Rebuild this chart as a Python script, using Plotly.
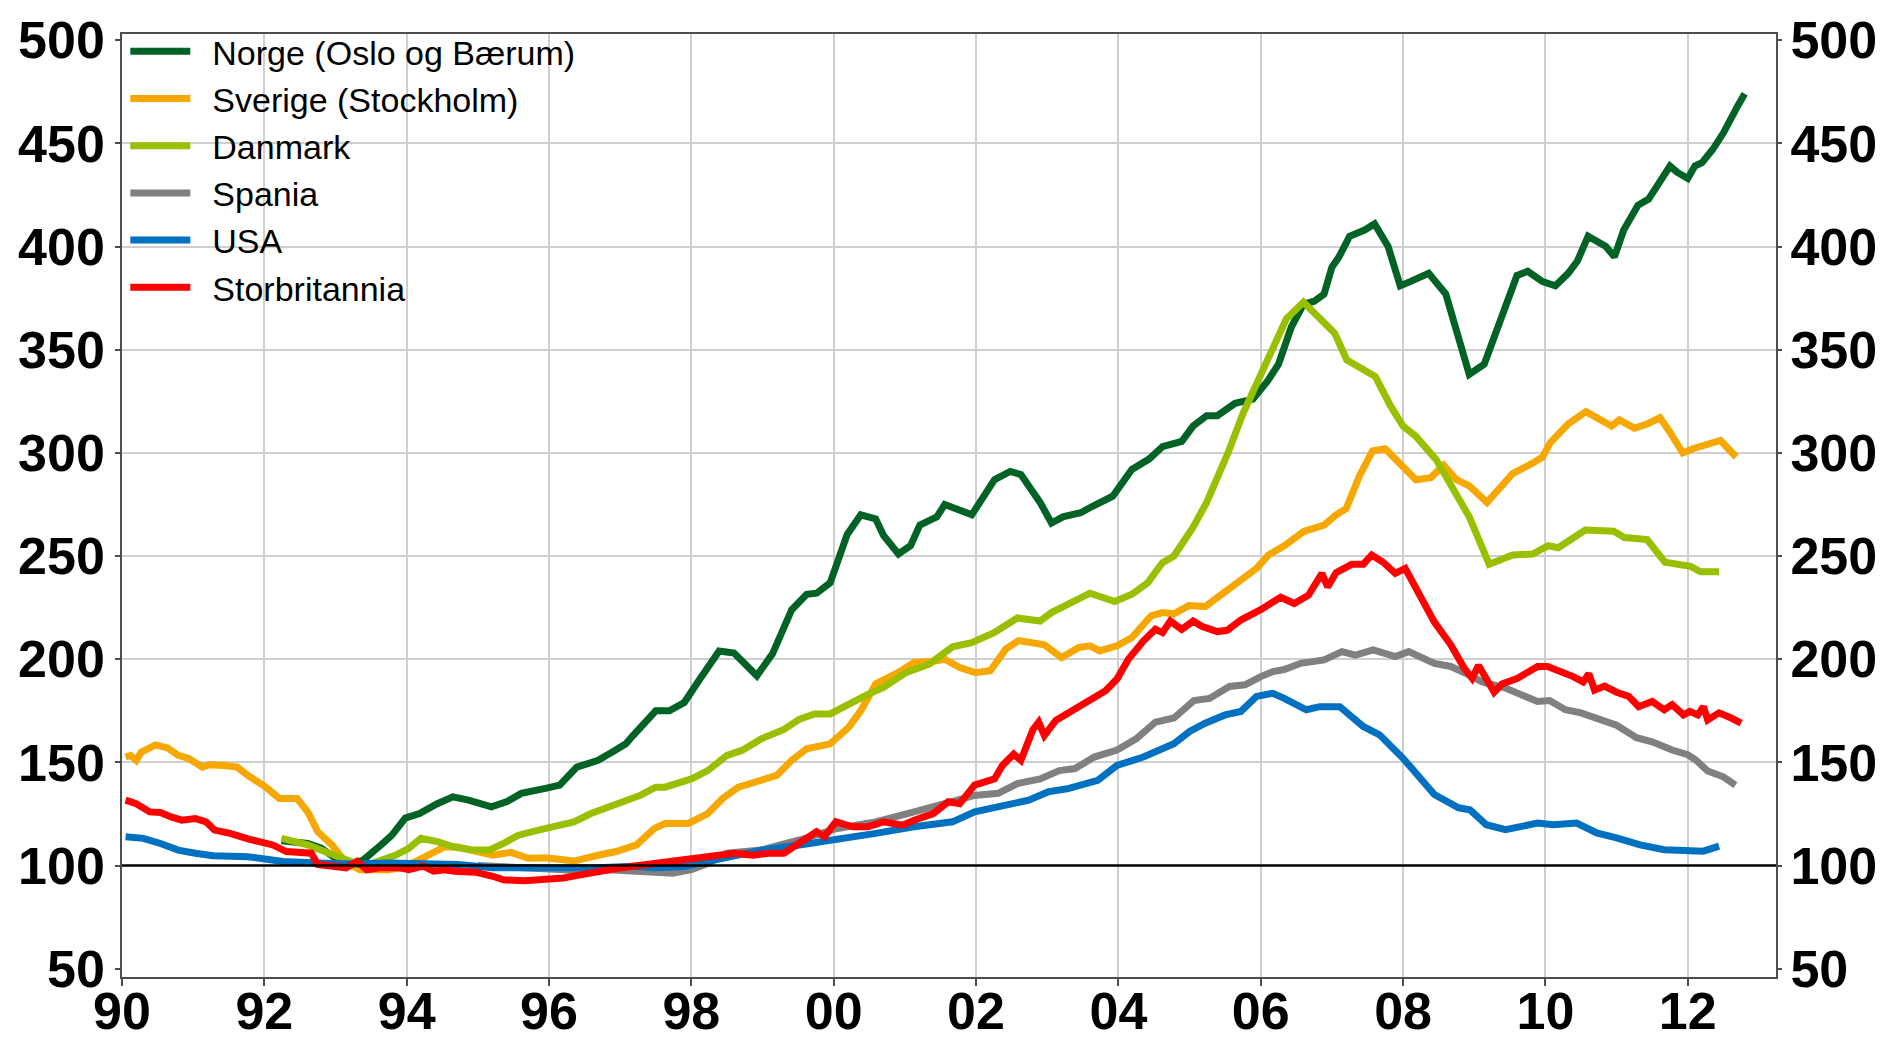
import plotly.graph_objects as go

# ---------------- axis definitions ----------------
YEAR_TICKS = [1990, 1992, 1994, 1996, 1998, 2000, 2002, 2004, 2006, 2008, 2010, 2012]
YEAR_LABELS = ["90", "92", "94", "96", "98", "00", "02", "04", "06", "08", "10", "12"]
VALUE_TICKS = [50, 100, 150, 200, 250, 300, 350, 400, 450, 500]
GRID_VALUES = [150, 200, 250, 300, 350, 400, 450]
BASE_LEVEL = 100
X_RANGE = [1990, 2013.24]
Y_RANGE = [46, 503]

# ---------------- series (index) ----------------
norge_x = [1992.24, 1992.45, 1992.61, 1992.8, 1993.0, 1993.25, 1993.39, 1993.64, 1993.79, 1993.98,
           1994.18, 1994.43, 1994.65, 1994.87, 1995.19, 1995.41, 1995.61, 1995.95, 1996.15, 1996.39,
           1996.69, 1996.89, 1997.08, 1997.18, 1997.38, 1997.5, 1997.69, 1997.9, 1998.12, 1998.39,
           1998.6, 1998.92, 1999.14, 1999.41, 1999.62, 1999.76, 1999.95, 2000.19, 2000.38, 2000.59,
           2000.7, 2000.91, 2001.08, 2001.21, 2001.45, 2001.56, 2001.94, 2002.26, 2002.48, 2002.63,
           2002.9, 2003.06, 2003.22, 2003.47, 2003.63, 2003.92, 2004.19, 2004.43, 2004.62, 2004.89,
           2005.05, 2005.24, 2005.39, 2005.64, 2005.89, 2006.1, 2006.25, 2006.43, 2006.6, 2006.75,
           2006.89, 2007.0, 2007.1, 2007.25, 2007.46, 2007.6, 2007.79, 2007.96, 2008.1, 2008.36,
           2008.6, 2008.8, 2008.93, 2009.14, 2009.4, 2009.6, 2009.75, 2009.96, 2010.14, 2010.32,
           2010.45, 2010.6, 2010.85, 2010.97, 2011.1, 2011.3, 2011.45, 2011.6, 2011.75, 2011.85,
           2012.0, 2012.1, 2012.2, 2012.35, 2012.5, 2012.7, 2012.8]
norge_y = [112, 111.5, 110.7, 108.4, 103.5, 101.3, 102.7, 110, 114.6, 123,
           125.2, 130, 133.3, 131.7, 128.5, 131, 135, 137.4, 139, 147.7,
           151, 155, 159, 163, 170.3, 175, 175, 179, 190.4, 204,
           203, 192, 202.6, 224, 231.5, 232, 237, 260.5, 270, 268,
           260, 251, 255, 265, 269, 275, 270, 287, 291, 289.5,
           276, 266, 269, 271, 274, 279, 292, 297, 303, 305.6,
           313, 318, 318, 324, 326, 335, 343, 361, 372, 373.5,
           377, 390, 395, 405, 408, 411, 400, 381, 383, 387,
           377, 355, 338, 343, 366, 386, 388, 383, 381, 387,
           393, 405, 400, 395, 408, 420, 423, 431, 439, 436,
           433, 439, 440.6, 447, 455, 468, 474]

sverige_x = [1990.05, 1990.12, 1990.2, 1990.27, 1990.47, 1990.64, 1990.79, 1990.93, 1991.13, 1991.23,
             1991.43, 1991.62, 1991.77, 1992.02, 1992.21, 1992.46, 1992.61, 1992.75, 1992.95, 1993.1,
             1993.25, 1993.34, 1993.74, 1993.94, 1994.13, 1994.38, 1994.53, 1994.72, 1994.97, 1995.21,
             1995.46, 1995.71, 1995.95, 1996.2, 1996.35, 1996.69, 1996.94, 1997.23, 1997.48, 1997.63,
             1997.96, 1998.23, 1998.44, 1998.66, 1998.98, 1999.2, 1999.41, 1999.62, 1999.95, 2000.21,
             2000.38, 2000.59, 2000.91, 2001.13, 2001.4, 2001.56, 2001.77, 2001.99, 2002.2, 2002.42,
             2002.6, 2002.85, 2002.96, 2003.2, 2003.44, 2003.6, 2003.74, 2003.98, 2004.19, 2004.46,
             2004.62, 2004.78, 2004.99, 2005.22, 2005.44, 2005.67, 2005.94, 2006.11, 2006.33, 2006.61,
             2006.89, 2007.06, 2007.2, 2007.39, 2007.57, 2007.75, 2007.96, 2008.18, 2008.39, 2008.57,
             2008.75, 2008.93, 2009.18, 2009.54, 2009.82, 2009.96, 2010.07, 2010.32, 2010.57, 2010.75,
             2010.93, 2011.04, 2011.25, 2011.43, 2011.61, 2011.75, 2011.93, 2012.07, 2012.25, 2012.46,
             2012.68]
sverige_y = [152.6, 153.4, 151, 155, 158.5, 157, 153.4, 152, 147.7, 148.9,
             148.5, 147.7, 143.7, 138, 132.5, 132.5, 126, 116.4, 110, 103.5,
             99.7, 98, 98, 99, 102, 106.8, 109, 109, 106.8, 105,
             106.4, 103.5, 103.8, 102.7, 102.2, 105, 106.8, 110, 118, 120.4,
             120.4, 125.2, 132.5, 138, 141.3, 143.7, 151, 156.6, 159, 167,
             175, 188, 193.6, 198.4, 199, 200, 196, 193.5, 194.4, 205,
             209, 208, 207, 200.8, 205.6, 206.5, 204, 206.5, 210.5, 221,
             222.6, 222, 226, 225.5, 231, 237, 244, 250.5, 255, 262,
             265, 270, 273, 289, 301, 302, 295, 287, 288, 294,
             287, 284, 276, 290, 295, 298, 305, 314, 320, 316,
             313, 316, 312, 314, 317, 310, 300, 302, 304, 306,
             298]

danmark_x = [1992.24, 1992.41, 1992.61, 1992.85, 1993.05, 1993.25, 1993.39, 1993.54, 1993.84, 1994.03,
             1994.2, 1994.43, 1994.67, 1994.92, 1995.16, 1995.36, 1995.56, 1995.85, 1996.2, 1996.35,
             1996.59, 1996.94, 1997.28, 1997.5, 1997.63, 1998.0, 1998.23, 1998.5, 1998.71, 1998.98,
             1999.3, 1999.52, 1999.73, 1999.95, 2000.16, 2000.48, 2000.7, 2001.02, 2001.34, 2001.56,
             2001.67, 2001.94, 2002.26, 2002.58, 2002.9, 2003.06, 2003.44, 2003.6, 2003.95, 2004.19,
             2004.41, 2004.62, 2004.78, 2005.05, 2005.24, 2005.54, 2005.75, 2005.96, 2006.18, 2006.36,
             2006.6, 2006.82, 2007.04, 2007.21, 2007.46, 2007.61, 2007.82, 2008.0, 2008.18, 2008.46,
             2008.68, 2008.93, 2009.04, 2009.21, 2009.54, 2009.82, 2010.04, 2010.18, 2010.56, 2010.96,
             2011.11, 2011.43, 2011.68, 2012.04, 2012.18, 2012.44]
danmark_y = [113.2, 111.6, 110, 106.8, 104.3, 102, 99.7, 101.3, 105, 108.4,
             113.2, 111.6, 109, 107.5, 107.5, 110.7, 114.6, 117.2, 119.6, 121.2,
             125.2, 130, 134, 138, 138, 142, 146, 153.4, 155.8, 161.4,
             166, 171, 173.5, 173.5, 177.5, 183, 186.3, 193.6, 197.6, 203,
             206, 208, 213, 220, 218.5, 222.6, 229, 232, 228, 231.5,
             237, 246.8, 250, 264, 276, 300, 319, 335, 350, 365,
             373, 366, 358, 345, 340, 337, 323, 313, 308, 297,
             284, 269, 260, 246, 250.5, 251, 255, 254, 262.6, 262,
             259, 258, 247, 245, 242.4, 242.4]

spania_x = [1995.0, 1995.5, 1996.0, 1996.5, 1996.83, 1997.37, 1997.74, 1998.0, 1998.23, 1998.5,
            1998.98, 1999.25, 1999.52, 2000.05, 2000.59, 2001.13, 2001.4, 2001.67, 2001.98, 2002.31,
            2002.58, 2002.9, 2003.17, 2003.39, 2003.66, 2003.98, 2004.25, 2004.52, 2004.78, 2005.06,
            2005.28, 2005.56, 2005.78, 2006.0, 2006.17, 2006.33, 2006.56, 2006.89, 2007.14, 2007.33,
            2007.58, 2007.89, 2008.08, 2008.44, 2008.67, 2008.89, 2009.11, 2009.44, 2009.67, 2009.89,
            2010.06, 2010.28, 2010.5, 2010.67, 2011.0, 2011.28, 2011.5, 2011.78, 2012.0, 2012.11,
            2012.28, 2012.5, 2012.67]
spania_y = [100, 99, 98, 97.5, 98, 97.1, 96.3, 98, 101, 106,
            107.5, 110, 112.4, 118, 121.2, 126, 128.5, 131.7, 134, 135,
            139.7, 142, 146, 147, 152.6, 156, 161.4, 169.5, 171.5, 180,
            181, 186.8, 187.6, 191.6, 194, 195, 198, 199.7, 203.7, 202,
            204.5, 201.3, 203.7, 198, 196.5, 193, 189, 186, 182.7, 179.5,
            180, 175.5, 174, 172, 168, 162, 160, 156, 153.7, 151.3,
            145.8, 143, 139]

usa_x = [1990.05, 1990.3, 1990.54, 1990.79, 1991.03, 1991.28, 1991.77, 1992.02, 1992.26, 1992.75,
         1993.25, 1993.74, 1994.23, 1994.72, 1995.21, 1995.71, 1996.2, 1996.69, 1997.18, 1997.48,
         1997.9, 1998.44, 1998.98, 1999.52, 2000.05, 2000.59, 2001.13, 2001.67, 2001.98, 2002.47,
         2002.74, 2003.01, 2003.28, 2003.71, 2003.98, 2004.35, 2004.56, 2004.78, 2005.0, 2005.22,
         2005.5, 2005.72, 2005.94, 2006.17, 2006.33, 2006.64, 2006.83, 2007.11, 2007.44, 2007.67,
         2008.0, 2008.44, 2008.78, 2008.94, 2009.17, 2009.44, 2009.89, 2010.11, 2010.44, 2010.72,
         2011.0, 2011.33, 2011.67, 2012.0, 2012.22, 2012.44]
usa_y = [114, 113.2, 110.7, 107.5, 106, 104.8, 104.3, 103.5, 102, 101.3,
         100.8, 101.3, 101.3, 100.5, 98.9, 98.9, 98.6, 98.9, 99.7, 98.9,
         99.5, 103.5, 107.5, 110, 112.4, 115.6, 118.8, 121.2, 126, 129.3,
         131.7, 135.7, 137.2, 141.3, 148.5, 152.6, 155.3, 159, 165, 169,
         173, 174.7, 182, 183.5, 181, 175.5, 177, 177, 167.4, 163.4,
         152, 134.4, 128, 127, 119.8, 117.4, 120.6, 119.8, 120.6, 115.8,
         113.4, 110, 107.7, 107, 107, 109.4]

uk_x = [1990.05, 1990.2, 1990.39, 1990.54, 1990.69, 1990.84, 1991.03, 1991.18, 1991.3, 1991.52,
        1991.77, 1991.97, 1992.12, 1992.31, 1992.56, 1992.66, 1992.75, 1993.0, 1993.15, 1993.3,
        1993.44, 1993.64, 1993.89, 1994.03, 1994.23, 1994.38, 1994.53, 1994.67, 1994.97, 1995.21,
        1995.36, 1995.66, 1995.95, 1996.2, 1996.44, 1996.69, 1996.94, 1997.18, 1997.48, 1997.63,
        1998.0, 1998.33, 1998.6, 1998.87, 1999.09, 1999.3, 1999.57, 1999.76, 1999.87, 2000.03,
        2000.27, 2000.48, 2000.7, 2000.97, 2001.13, 2001.4, 2001.61, 2001.77, 2001.98, 2002.26,
        2002.37, 2002.53, 2002.63, 2002.8, 2002.88, 2002.96, 2003.12, 2003.28, 2003.5, 2003.66,
        2003.82, 2003.98, 2004.14, 2004.35, 2004.52, 2004.62, 2004.73, 2004.89, 2005.05, 2005.17,
        2005.39, 2005.53, 2005.72, 2006.0, 2006.28, 2006.47, 2006.67, 2006.86, 2006.94, 2007.06,
        2007.28, 2007.44, 2007.56, 2007.72, 2007.89, 2008.03, 2008.22, 2008.44, 2008.67, 2008.86,
        2008.97, 2009.06, 2009.28, 2009.39, 2009.61, 2009.89, 2010.03, 2010.22, 2010.39, 2010.53,
        2010.61, 2010.69, 2010.83, 2011.0, 2011.17, 2011.31, 2011.5, 2011.67, 2011.78, 2011.94,
        2012.03, 2012.14, 2012.22, 2012.28, 2012.44, 2012.61, 2012.75]
uk_y = [131.7, 130, 126, 125.7, 123.6, 122, 122.8, 121.2, 117.2, 115.6,
        112.9, 111, 110, 106.8, 106.4, 106, 100.5, 99.7, 98.9, 102,
        98, 99, 99, 98, 99.7, 97.3, 98, 97.3, 96.8, 94.8,
        93.1, 92.6, 93.1, 94, 95.5, 97.3, 98.6, 99.7, 101, 102,
        103.5, 104.3, 106, 105, 106, 106, 111.6, 116.4, 114, 121.2,
        118.8, 118.8, 121.2, 119.6, 122, 125.2, 130.9, 130, 139, 142,
        148.5, 154, 151, 166, 169.5, 163, 170.3, 173.5, 177.5, 181.5,
        184.7, 190.4, 200, 208.8, 214.5, 212.9, 218.5, 214.5, 218.5, 216,
        213.4, 214, 219, 224, 230, 227, 231, 241.6, 235, 242,
        246, 246, 250.5, 247, 241.6, 244, 232.7, 218, 207, 195.6,
        190.8, 197, 184, 188, 190.8, 196.5, 196.5, 194, 191.6, 189,
        193, 185, 187, 184, 182, 177, 179.5, 175.5, 178, 173,
        174.7, 173, 177, 170.6, 174, 171.5, 169]

SERIES = [
    ("Norge (Oslo og Bærum)", norge_x, norge_y, "#006325"),
    ("Sverige (Stockholm)", sverige_x, sverige_y, "#F6A700"),
    ("Danmark", danmark_x, danmark_y, "#99C000"),
    ("Spania", spania_x, spania_y, "#808080"),
    ("USA", usa_x, usa_y, "#0070C0"),
    ("Storbritannia", uk_x, uk_y, "#FF0000"),
]

LEGEND_PAD = "\u2002"  # small gap between legend sample line and its label

fig = go.Figure()
for name, xs, ys, color in SERIES:
    fig.add_trace(go.Scatter(x=xs, y=ys, name=LEGEND_PAD + name, mode="lines",
                             line=dict(color=color, width=7), hoverinfo="x+y+name"))

# helper (invisible) traces so the overlay axes are created
fig.add_trace(go.Scatter(x=[X_RANGE[0]], y=[BASE_LEVEL], yaxis="y2", mode="markers",
                         marker=dict(opacity=0), showlegend=False, hoverinfo="skip"))
fig.add_trace(go.Scatter(x=[X_RANGE[0]], y=[BASE_LEVEL], yaxis="y3", mode="markers",
                         marker=dict(opacity=0), showlegend=False, hoverinfo="skip"))

AXIS_LINE = "#4d4d4d"
GRID = "#cfcfcf"
ytick_font = dict(family="Liberation Sans, Arial, sans-serif", size=52, color="black", weight="bold")
xtick_font = dict(family="Liberation Sans Narrow, Arial Narrow, Liberation Sans, sans-serif",
                  size=52, color="black", weight="bold")

fig.update_layout(
    width=1886, height=1039,
    margin=dict(l=114, r=118, t=26, b=70, autoexpand=False),
    plot_bgcolor="white", paper_bgcolor="white",
    showlegend=True,
    legend=dict(x=0.002, y=1.012, xanchor="left", yanchor="top",
                bgcolor="rgba(0,0,0,0)", borderwidth=0, tracegroupgap=0,
                itemwidth=60,
                font=dict(family="Liberation Sans, Arial, sans-serif", size=34, color="black")),
    xaxis=dict(range=X_RANGE, tickmode="array", tickvals=YEAR_TICKS, ticktext=YEAR_LABELS,
               showgrid=True, gridcolor=GRID, gridwidth=1.5, zeroline=False, automargin=False,
               showline=True, linecolor=AXIS_LINE, linewidth=1.5, mirror=True,
               ticks="outside", ticklen=7, tickwidth=1.5, tickcolor=AXIS_LINE,
               ticklabelstandoff=-19, tickfont=xtick_font),
    yaxis=dict(range=Y_RANGE, tickmode="array", tickvals=VALUE_TICKS,
               showgrid=False, zeroline=False, automargin=False,
               showline=True, linecolor=AXIS_LINE, linewidth=1.5, mirror=True,
               ticks="outside", ticklen=5, tickwidth=1.5, tickcolor=AXIS_LINE,
               ticklabelstandoff=0, tickfont=ytick_font),
    yaxis2=dict(range=Y_RANGE, overlaying="y", side="right", tickmode="array",
                tickvals=VALUE_TICKS, showgrid=False, zeroline=False, showline=False,
                automargin=False,
                ticks="outside", ticklen=5, tickwidth=1.5, tickcolor=AXIS_LINE,
                ticklabelstandoff=-2, tickfont=ytick_font),
    yaxis3=dict(range=Y_RANGE, overlaying="y", side="left", tickmode="array",
                tickvals=GRID_VALUES, showgrid=True, gridcolor=GRID, gridwidth=1.5,
                automargin=False,
                zeroline=False, showline=False, showticklabels=False, ticks=""),
)

# white panel behind the legend (hides gridlines there)
fig.add_shape(type="rect", xref="paper", yref="paper", x0=0.0, x1=0.461, y0=0.685, y1=0.9926,
              fillcolor="white", line=dict(width=0), layer="between")

# reference line at index base level
fig.add_hline(y=BASE_LEVEL, line=dict(color="black", width=2.5))

fig.write_html("out.html")
